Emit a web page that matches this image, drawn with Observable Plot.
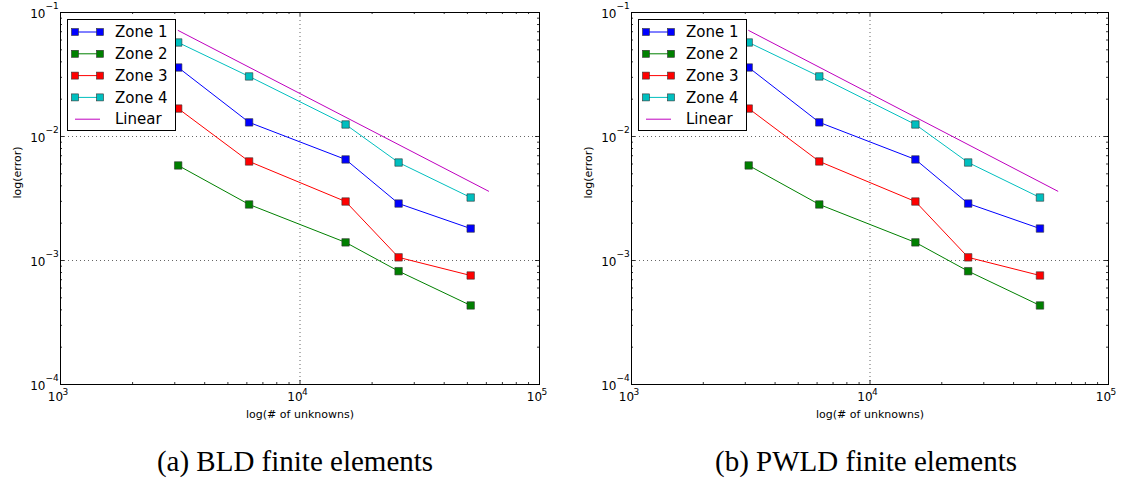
<!DOCTYPE html>
<html>
<head>
<meta charset="utf-8">
<script src="https://cdn.jsdelivr.net/npm/d3@7"></script>
<script src="https://cdn.jsdelivr.net/npm/@observablehq/plot@0.6"></script>
<style>
  html, body { margin: 0; padding: 0; background: #fff; }
  body { width: 1125px; height: 488px; overflow: hidden; position: relative; font-family: "DejaVu Sans", sans-serif; }
  .fig { position: absolute; top: 0; }
  .cap { position: absolute; top: 445px; font-family: "Liberation Serif", "DejaVu Serif", serif; font-size: 29px; text-align: center; color: #000; white-space: nowrap; }
  .legend { position: absolute; }
</style>
</head>
<body>
<div id="figA" class="fig" style="left:0px;width:562px"></div>
<div id="figB" class="fig" style="left:562px;width:563px"></div>
<div class="cap" style="left:0px;width:590px">(a) BLD finite elements</div>
<div class="cap" style="left:562px;width:608px">(b) PWLD finite elements</div>
<script>
// ---- data (both panels show the same values) ----
const unknowns = [3100, 6130, 15500, 25800, 51600];
const zone1 = [0.0360, 0.0130, 0.00653, 0.00288, 0.00181];
const zone2 = [0.00584, 0.00283, 0.00140, 0.00082, 0.000434];
const zone3 = [0.0168, 0.00629, 0.00299, 0.00106, 0.000757];
const zone4 = [0.0573, 0.0305, 0.0125, 0.00617, 0.00322];
const linearX = [3100, 61300];
const linearY = [0.0716, 0.00362];

const seriesNames = ["Zone 1", "Zone 2", "Zone 3", "Zone 4", "Linear"];
const seriesColors = ["#0000ff", "#008000", "#ff0000", "#00bfbf", "#bf00bf"];

const xMajor = [1e3, 1e4, 1e5];
const xExp = ["3", "4", "5"];
const yMajor = [1e-4, 1e-3, 1e-2, 1e-1];
const yExp = ["-4", "-3", "-2", "-1"];
const xGrid = [1e4];
const yGrid = [1e-3, 1e-2];
const mult = [2, 3, 4, 5, 6, 7, 8, 9];
const xMinor = [1e3, 1e4].flatMap(d => mult.map(m => m * d));
const yMinor = [1e-4, 1e-3, 1e-2].flatMap(d => mult.map(m => m * d));

const zoneValues = [zone1, zone2, zone3, zone4];
const rows = zoneValues.flatMap((vals, i) =>
  vals.map((v, j) => ({series: seriesNames[i], x: unknowns[j], y: v})));
const linRows = linearX.map((x, j) => ({series: "Linear", x, y: linearY[j]}));

function chart(w, ml, mr) {
  const mt = 12, mb = 46, h = 430;
  const iw = w - ml - mr, ih = h - mt - mb;
  const majorLen = 4, minorLen = 2;
  const tickStyle = {stroke: "#000", strokeWidth: 0.8};
  return Plot.plot({
    width: w, height: h,
    marginLeft: ml, marginRight: mr, marginTop: mt, marginBottom: mb,
    x: {type: "log", domain: [1e3, 1e5], axis: null},
    y: {type: "log", domain: [1e-4, 1e-1], axis: null},
    color: {domain: seriesNames, range: seriesColors},
    style: {fontFamily: "DejaVu Sans, sans-serif", color: "#000", background: "#fff", overflow: "visible"},
    marks: [
      // dotted grid
      Plot.ruleX(xGrid, {x: d => d, stroke: "#000", strokeOpacity: 0.6, strokeDasharray: "1,3", strokeWidth: 1}),
      Plot.ruleY(yGrid, {y: d => d, stroke: "#000", strokeOpacity: 0.6, strokeDasharray: "1,3", strokeWidth: 1}),
      // inward ticks on all four sides
      Plot.tickX(xMajor, {x: d => d, insetTop: ih - majorLen, ...tickStyle}),
      Plot.tickX(xMajor, {x: d => d, insetBottom: ih - majorLen, ...tickStyle}),
      Plot.tickX(xMinor, {x: d => d, insetTop: ih - minorLen, ...tickStyle}),
      Plot.tickX(xMinor, {x: d => d, insetBottom: ih - minorLen, ...tickStyle}),
      Plot.tickY(yMajor, {y: d => d, insetRight: iw - majorLen, ...tickStyle}),
      Plot.tickY(yMajor, {y: d => d, insetLeft: iw - majorLen, ...tickStyle}),
      Plot.tickY(yMinor, {y: d => d, insetRight: iw - minorLen, ...tickStyle}),
      Plot.tickY(yMinor, {y: d => d, insetLeft: iw - minorLen, ...tickStyle}),
      // x tick labels 10^n
      Plot.text(xMajor, {x: d => d, frameAnchor: "bottom", text: () => "10", dy: 16, dx: -5, fontSize: 12, fill: "#000"}),
      Plot.text(xMajor, {x: d => d, frameAnchor: "bottom", text: (d, i) => xExp[i], dy: 10, dx: 2, textAnchor: "start", fontSize: 9, fill: "#000"}),
      // y tick labels 10^-n
      Plot.text(yMajor, {y: d => d, frameAnchor: "left", text: () => "10", dx: -15, dy: 2, textAnchor: "end", fontSize: 12, fill: "#000"}),
      Plot.text(yMajor, {y: d => d, frameAnchor: "left", text: (d, i) => yExp[i].replace("-", "\u2212"), dx: -15, dy: -6, textAnchor: "start", fontSize: 9, fill: "#000"}),
      // axis labels
      Plot.text(["log(# of unknowns)"], {frameAnchor: "bottom", text: d => d, dy: 33, fontSize: 11, fill: "#000"}),
      Plot.text(["log(error)"], {frameAnchor: "left", text: d => d, dx: -43, rotate: -90, fontSize: 11, fill: "#000"}),
      // data
      ...seriesNames.slice(0, 4).flatMap(name => [
        Plot.line(rows.filter(r => r.series === name), {x: "x", y: "y", stroke: "series", strokeWidth: 1}),
        Plot.dot(rows.filter(r => r.series === name), {x: "x", y: "y", symbol: "square", r: 4.2, fill: "series", stroke: "#333", strokeWidth: 0.6})
      ]),
      Plot.line(linRows, {x: "x", y: "y", stroke: "series", strokeWidth: 1}),
      Plot.frame({stroke: "#000", strokeWidth: 1})
    ]
  });
}

function legend(left, top) {
  const W = 108, H = 111, step = 21.8, y0 = 13;
  const svg = d3.create("svg").attr("width", W + 2).attr("height", H + 2)
    .attr("class", "legend").style("left", left + "px").style("top", top + "px");
  svg.append("rect").attr("x", 0.5).attr("y", 0.5).attr("width", W).attr("height", H)
    .attr("fill", "#fff").attr("stroke", "#000").attr("stroke-width", 1);
  seriesNames.forEach((name, i) => {
    const y = y0 + i * step;
    const g = svg.append("g").attr("transform", `translate(0,${y})`);
    g.append("line").attr("x1", 8).attr("x2", 33).attr("y1", 0).attr("y2", 0)
      .attr("stroke", seriesColors[i]).attr("stroke-width", 1);
    if (i < 4) {
      [8, 33].forEach(cx => g.append("rect").attr("x", cx - 3.5).attr("y", -3.5).attr("width", 7).attr("height", 7)
        .attr("fill", seriesColors[i]).attr("stroke", "#333").attr("stroke-width", 0.6));
    }
    g.append("text").attr("x", 48).attr("y", 0).attr("dy", "0.35em")
      .attr("font-family", "DejaVu Sans, sans-serif").attr("font-size", 15).attr("fill", "#000").text(name);
  });
  return svg.node();
}

const figA = document.getElementById("figA");
figA.append(chart(562, 60, 23));
figA.append(legend(67, 19));
const figB = document.getElementById("figB");
figB.append(chart(563, 69, 17));
figB.append(legend(76, 19));
</script>
</body>
</html>
